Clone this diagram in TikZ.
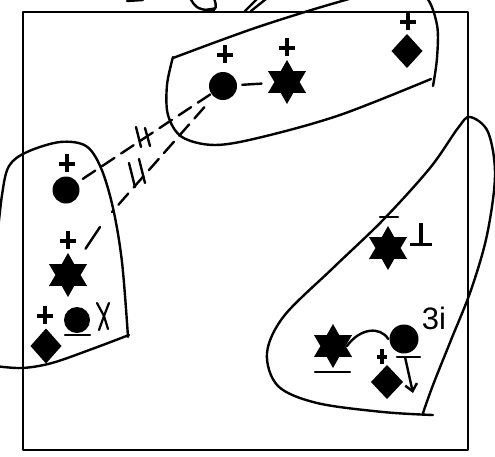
\documentclass[tikz,border=0pt]{standalone}
\usepackage{fontspec}
\newfontfamily\hf{Liberation Sans}
\usetikzlibrary{shapes.geometric,arrows.meta}
\begin{document}
\begin{tikzpicture}[x=1pt,y=-1pt,line width=2.4pt,line cap=round,line join=round,
  dot/.style={circle,fill=black,inner sep=0pt,minimum size=28pt},
  hexstar/.style={star,star points=6,star point ratio=1.75,fill=black,inner sep=0pt,minimum size=44pt},
  gem/.style={diamond,fill=black,inner sep=0pt,minimum width=32pt,minimum height=35pt},
  pl/.style={inner sep=0pt,minimum width=16pt,minimum height=18pt,
    path picture={\draw[line width=4.8pt,line cap=butt]
      (path picture bounding box.north) -- (path picture bounding box.south)
      ([yshift=-1pt]path picture bounding box.west) -- ([yshift=-1pt]path picture bounding box.east);}},
  upt/.style={inner sep=0pt,minimum width=22pt,minimum height=22pt,
    path picture={\draw[line width=4.6pt,line cap=butt]
      (path picture bounding box.north) -- (path picture bounding box.south)
      (path picture bounding box.south west) -- (path picture bounding box.south east);}},
  dsh/.style={dash pattern=on 15pt off 8pt}]
\useasboundingbox (0,0) rectangle (495,456);
\clip (0,0) rectangle (495,456);
% frame
\draw (23,12) rectangle (468,450);
% bits above the frame
\draw (127,1) -- (143,0);
\draw (190,-2) .. controls (196,8) .. (210,11) .. controls (217,8) .. (214,-2);
\fill (203,9) -- (214,12) -- (217,7) -- cycle;
\draw (245,11) -- (258,-2);
\draw (251,11) -- (266,-1);
% top blob
\draw plot[smooth,tension=0.55] coordinates {(173,58) (255,28) (335,3) (395,-12) (425,-4) (437,25) (437,58) (433,86)};
\draw plot[smooth,tension=0.55] coordinates {(431,79) (340,115) (262,137) (215,145) (182,137) (168,115) (167,85) (173,57)};
% left blob
\draw plot[smooth,tension=0.55] coordinates {(-4,250) (2,195) (9,166) (27,152) (60,142) (86,146) (101,168) (113,208) (122,262) (128,337)};
\draw plot[smooth,tension=0.55] coordinates {(129,335) (92,349) (52,363) (22,368) (-5,366)};
% right blob
\draw plot[smooth,tension=0.55] coordinates {(433,415) (383,412) (317,403) (278,386) (267,353) (284,316) (333,268) (383,220) (430,168) (458,128) (470,117) (488,132) (495,175) (487,235) (471,290) (451,340) (433,385) (423,413)};
% top blob contents
\node[pl] (p1) at (225,54) {};
\node[dot] (c1) at (223,86) {};
\node[pl] (p2) at (287,47) {};
\node[hexstar] (s1) at (287,82) {};
\node[pl] (p3) at (408,21) {};
\node[gem] (d1) at (407,51) {};
\draw[shorten <=4pt,shorten >=11pt] (c1) -- (s1);
% left blob contents
\node[pl] (p4) at (67,163) {};
\node[dot,minimum size=27pt] (c2) at (66,190) {};
\node[pl] (p5) at (68,240) {};
\node[hexstar] (s2) at (68,275) {};
\coordinate (l2) at (100,227);
\draw[shorten <=17pt] (s2) -- (l2);
\node[pl] (p6) at (45,315) {};
\node[gem,minimum width=32pt,minimum height=36pt] (d2) at (46,346) {};
\node[dot,minimum size=26pt] (o1) at (77,320) {};
\draw (65,335) -- (90,335);
\draw[line width=2.2pt] (97,303) -- (104,316) -- (99,330);
\draw[line width=2.2pt] (109,303) -- (104,316) -- (108,329);
% dashed links
\coordinate (e2) at (112,212);
\draw[dsh] (c1) -- (c2);
\draw[dsh,shorten <=13pt] (c1) -- (e2);
\draw (136,127) -- (141,147);
\draw (145,128) -- (150,146);
\draw (129,163) -- (135,187);
\draw (139,159) -- (145,183);
% right blob contents
\draw (380,217) -- (398,217);
\node[hexstar] (s4) at (388,248) {};
\node[upt] (perp) at (421,234) {};
\node[inner sep=0pt,font=\hf\fontsize{31}{31}\selectfont] (t3i) at (434,318) {3i};
\node[hexstar] (s3) at (333,346) {};
\draw (315,372) -- (350,372);
\node[dot,minimum size=29pt] (c3) at (404,339) {};
\draw (397,357) -- (420,357);
\draw (s3.east) .. controls (360,328) and (380,326) .. (c3.west);
\coordinate (b3) at (405,357);
\coordinate (a3) at (413,393);
\draw[-{Straight Barb[length=7pt,width=12pt]}] (b3) -- (a3);
\node[pl,minimum width=10pt,minimum height=15pt] (p7) at (382,356) {};
\node[gem,minimum width=33pt,minimum height=35pt] (d3) at (387,382) {};
\end{tikzpicture}
\end{document}
